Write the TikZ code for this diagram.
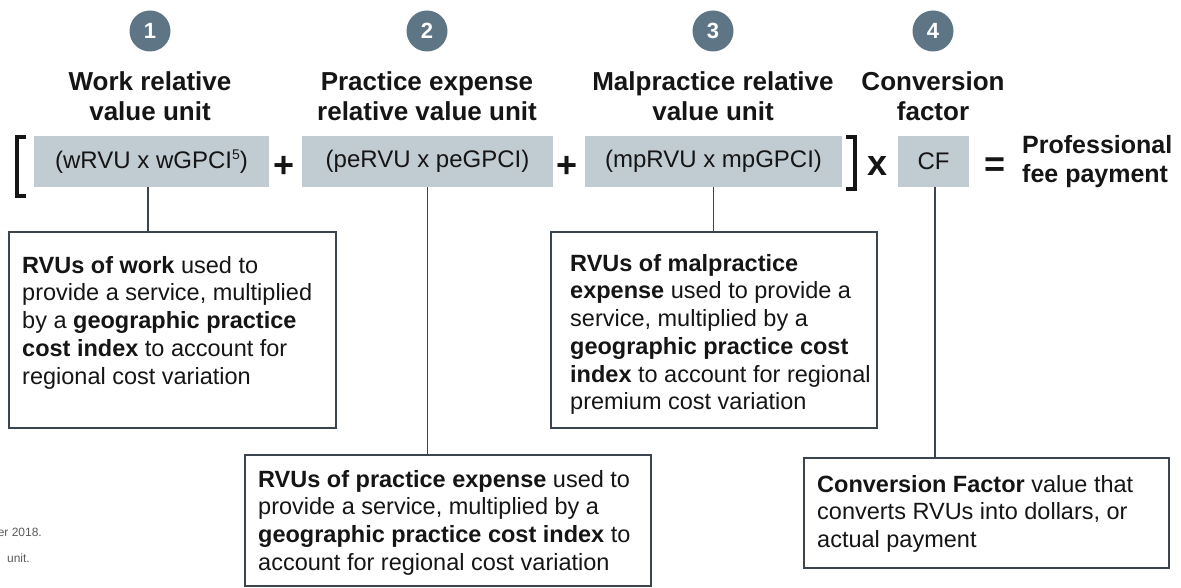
\documentclass[tikz,border=0pt]{standalone}
\usepackage{fontspec}
\setmainfont{Liberation Sans}
\definecolor{badge}{HTML}{5E7585}
\definecolor{termfill}{HTML}{C1CBD2}
\definecolor{rule}{HTML}{3B4550}
\definecolor{ink}{HTML}{151515}
\definecolor{note}{HTML}{5A5A5A}

\begin{document}
\begin{tikzpicture}[x=1pt,y=-1pt,
  badgenode/.style={circle, fill=badge, minimum size=41pt, inner sep=0pt, text=white,
    font=\fontsize{22}{24}\selectfont\bfseries},
  titlenode/.style={align=center, inner sep=0pt, text=ink,
    font=\fontsize{26}{30}\selectfont\bfseries},
  termbox/.style={fill=termfill, minimum height=51pt, inner sep=0pt, text=ink,
    font=\fontsize{24}{28}\selectfont},
  opnode/.style={inner sep=0pt, text=ink, font=\fontsize{36}{36}\selectfont\bfseries},
  descbox/.style={draw=rule, line width=2pt, inner sep=0pt},
  desctext/.style={align=left, inner sep=0pt, anchor=north west, text=ink,
    font=\fontsize{23.5}{27.7}\selectfont},
  link/.style={draw=rule, line width=1.6pt},
  bracket/.style={draw=ink, line width=4pt},
  footnote/.style={inner sep=0pt, anchor=base east, text=note,
    font=\fontsize{12}{14}\selectfont}
]
\useasboundingbox (0,0) rectangle (1181,588);

% numbered badges
\node[badgenode] (b1) at (150,31) {1};
\node[badgenode] (b2) at (427,31) {2};
\node[badgenode] (b3) at (713,31) {3};
\node[badgenode] (b4) at (933,31) {4};

% component titles
\node[titlenode] (t1) at (150,96) {Work relative\\value unit};
\node[titlenode] (t2) at (427,96) {Practice expense\\relative value unit};
\node[titlenode] (t3) at (713,96) {Malpractice relative\\value unit};
\node[titlenode] (t4) at (933,96) {Conversion\\factor};

% formula terms
\node[termbox, minimum width=235pt] (f1) at (151.5,161.5)
  {(wRVU x wGPCI\raisebox{0.36em}{\fontsize{14}{14}\selectfont 5})};
\node[termbox, minimum width=251pt] (f2) at (427.5,161.5) {(peRVU x peGPCI)};
\node[termbox, minimum width=257pt] (f3) at (713.5,161.5) {(mpRVU x mpGPCI)};
\node[termbox, minimum width=71pt] (f4) at (933.5,161.5) {CF};

% operators
\node[opnode] (p1) at (284,167) {+};
\node[opnode] (p2) at (567,167) {+};
\node[opnode] (m1) at (878,166) {x};
\node[opnode] (e1) at (995,167) {=};
\node[align=left, inner sep=0pt, anchor=west, text=ink,
  font=\fontsize{25}{29}\selectfont\bfseries] (res) at (1022,162) {Professional\\fee payment};

% square brackets
\draw[bracket] (26,137) -- (17,137) -- (17,196) -- (26,196);
\draw[bracket] (846,137) -- (855,137) -- (855,189) -- (846,189);

% explanation boxes
\node[descbox, minimum width=327pt, minimum height=196pt] (dA) at (172.5,330) {};
\node[descbox, minimum width=326pt, minimum height=196pt] (dC) at (714,330) {};
\node[descbox, minimum width=406pt, minimum height=131pt] (dB) at (448,520.5) {};
\node[descbox, minimum width=365pt, minimum height=110pt] (dD) at (986.5,513) {};

\node[desctext] (xA) at (22,256) {\textbf{RVUs of work} used to\\provide a service, multiplied\\by a \textbf{geographic practice}\\\textbf{cost index} to account for\\regional cost variation};
\node[desctext] (xC) at (570,254) {\textbf{RVUs of malpractice}\\\textbf{expense} used to provide a\\service, multiplied by a\\\textbf{geographic practice cost}\\\textbf{index} to account for regional\\premium cost variation};
\node[desctext] (xB) at (258,470) {\textbf{RVUs of practice expense} used to\\provide a service, multiplied by a\\\textbf{geographic practice cost index} to\\account for regional cost variation};
\node[desctext] (xD) at (817,475) {\textbf{Conversion Factor} value that\\converts RVUs into dollars, or\\actual payment};

% connectors from terms to explanations
\draw[link] ([xshift=-3.5pt]f1.south) -- ([xshift=-3.5pt]f1.south |- dA.north);
\draw[link] (f2.south) -- (f2.south |- dB.north);
\draw[link] (f3.south) -- (f3.south |- dC.north);
\draw[link] ([xshift=1.5pt]f4.south) -- ([xshift=1.5pt]f4.south |- dD.north);

% footnotes
\node[footnote] (n1) at (42,536) {er 2018.};
\node[footnote] (n2) at (30,562) {unit.};
\end{tikzpicture}
\end{document}
